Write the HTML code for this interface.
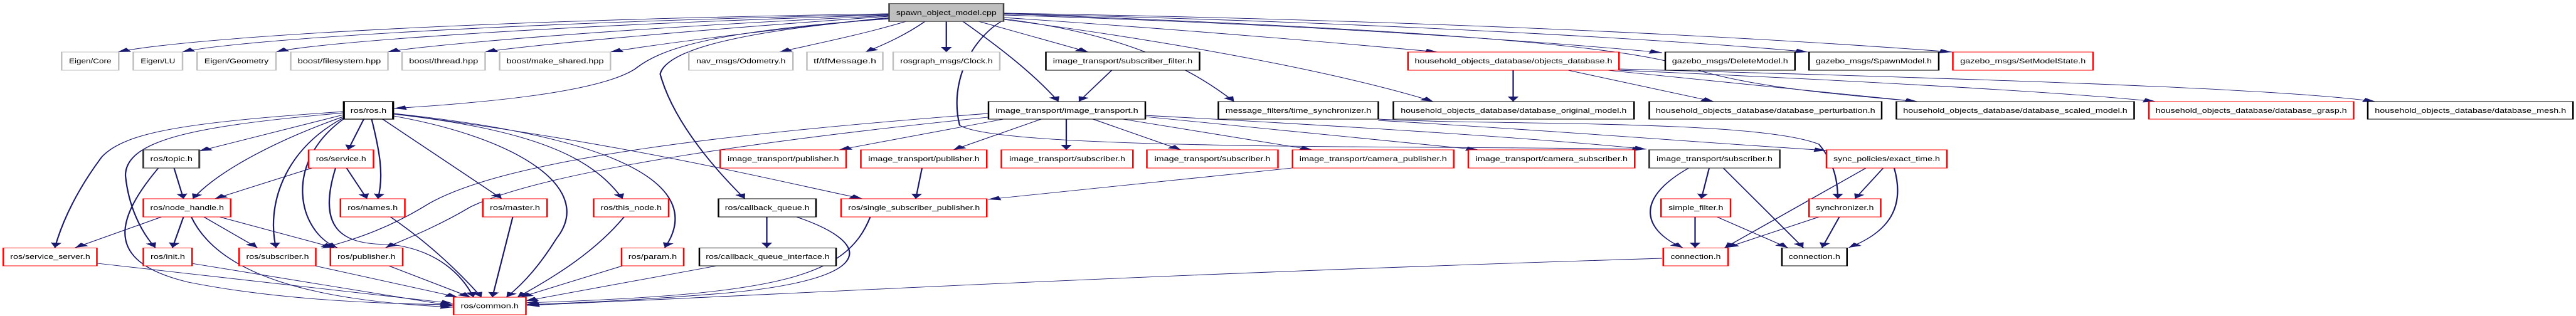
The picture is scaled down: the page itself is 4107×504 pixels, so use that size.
<!DOCTYPE html>
<html><head><meta charset="utf-8"><style>html,body{margin:0;padding:0;background:#fff}svg{display:block}</style></head>
<body>
<svg width="4107" height="504" viewBox="0 0 1642.8 504" preserveAspectRatio="none" xmlns="http://www.w3.org/2000/svg">
<defs><marker id="a" markerUnits="userSpaceOnUse" markerWidth="10" markerHeight="8" refX="8" refY="3.5" orient="auto"><path d="M0,0 L8,3.5 L0,7 z" fill="#191970"/></marker></defs>
<g fill="none" stroke="#191970" stroke-width="0.9" marker-end="url(#a)">
<path d="M567,22 C300,32 120,60 75,83"/>
<path d="M567,23 C320,36 150,64 116,83"/>
<path d="M567,24 C350,40 200,68 176,83"/>
<path d="M567,25 C400,44 270,72 247,83"/>
<path d="M567,26 C440,48 330,74 309,83"/>
<path d="M567,28 C480,50 410,74 389,83"/>
<path d="M578,34 C550,55 520,70 497,83"/>
<path d="M590,34 C578,55 565,70 552,83"/>
<path d="M603.5,34 L603.5,83"/>
<path d="M624,34 L694,83"/>
<path d="M614,34 C640,80 660,120 675,162"/>
<path d="M567,30 C450,50 420,80 405,110 C380,150 300,165 251,173"/>
<path d="M567,29 C470,50 425,80 421,118 C430,200 460,280 475,317"/>
<path d="M640,28 C760,48 860,70 917,83"/>
<path d="M640,24 C850,40 1000,70 1060,84"/>
<path d="M640,22 C900,36 1100,70 1153,83"/>
<path d="M640,21 C950,34 1150,65 1245,83"/>
<path d="M640,30 C720,55 760,110 787,162"/>
<path d="M640,31 C760,70 860,120 914,162"/>
<path d="M640,32 C620,60 605,130 612,200 C640,240 900,232 1049,238"/>
<path d="M640,22 C950,50 1050,80 1080,110 C1120,140 1170,150 1223,162"/>
<path d="M1032,112 C1200,130 1330,150 1375,162"/>
<path d="M1032,110 C1250,125 1450,140 1515,162"/>
<path d="M965,112 L965,162"/>
<path d="M1000,112 L1093,162"/>
<path d="M1025,112 L1223,162"/>
<path d="M879,190 C950,200 1120,190 1160,230 C1170,260 1172,290 1172,317"/>
<path d="M879,192 C1000,210 1100,230 1165,240"/>
<path d="M709,112 L688,162"/>
<path d="M640,190 L535,239"/>
<path d="M664,190 L608,239"/>
<path d="M680,190 L680,239"/>
<path d="M697,190 L753,239"/>
<path d="M716,190 L837,239"/>
<path d="M730,186 L943,239"/>
<path d="M730,184 C850,200 980,220 1050,238"/>
<path d="M630,181 C480,210 320,250 270,330 C250,360 230,380 205,396"/>
<path d="M630,187 C500,220 350,270 300,330 C280,360 260,380 246,395"/>
<path d="M588,268 L584,317"/>
<path d="M824,268 L630,318"/>
<path d="M219,178 C120,195 80,210 65,250 C50,300 40,350 35,395"/>
<path d="M219,180 C130,200 80,220 80,280 C82,330 90,370 99,395"/>
<path d="M219,183 L127,241"/>
<path d="M219,186 C180,220 140,270 123,317"/>
<path d="M219,188 C180,240 170,330 176,395"/>
<path d="M219,190 C180,260 190,370 215,395"/>
<path d="M232,190 L222,239"/>
<path d="M237,190 C242,240 245,280 241,317"/>
<path d="M244,190 L320,317"/>
<path d="M251,185 C330,220 380,300 355,380 C345,420 335,450 323,474"/>
<path d="M251,182 C350,210 380,260 397,317"/>
<path d="M251,181 C400,220 450,300 424,395"/>
<path d="M251,181 C400,230 480,280 550,317"/>
<path d="M111,268 L117,317"/>
<path d="M101,268 C70,360 70,420 120,450 C180,480 250,485 289,486"/>
<path d="M199,268 L137,317"/>
<path d="M221,268 L234,317"/>
<path d="M214,268 C200,380 225,390 250,390 C280,400 295,440 302,474"/>
<path d="M103,346 L48,395"/>
<path d="M117,346 L110,395"/>
<path d="M130,346 L164,395"/>
<path d="M140,346 L213,395"/>
<path d="M122,346 C140,440 200,480 289,490"/>
<path d="M249,346 C275,390 295,440 307,474"/>
<path d="M327,346 L314,474"/>
<path d="M398,346 C380,400 355,440 330,474"/>
<path d="M489,346 L489,395"/>
<path d="M508,346 C560,390 560,450 450,470 C400,480 360,484 335,486"/>
<path d="M555,346 C540,440 500,470 335,483"/>
<path d="M62,420 L289,484"/>
<path d="M122,420 L289,488"/>
<path d="M201,424 L292,474"/>
<path d="M248,424 L300,474"/>
<path d="M397,424 L332,474"/>
<path d="M457,424 L335,480"/>
<path d="M1060,412 C700,440 500,470 336,487"/>
<path d="M1090,268 L1085,317"/>
<path d="M1077,268 C1040,320 1050,370 1073,395"/>
<path d="M1099,268 L1150,395"/>
<path d="M1081,346 L1081,395"/>
<path d="M1095,346 L1140,395"/>
<path d="M1201,268 L1183,317"/>
<path d="M1190,268 L1100,395"/>
<path d="M1208,268 C1215,330 1205,370 1179,395"/>
<path d="M1160,346 L1101,395"/>
<path d="M1173,346 L1162,395"/>
</g>
<g stroke-width="1" font-family="Liberation Sans, sans-serif" font-size="11" text-anchor="middle">
<g fill="#fff" stroke="#bfbfbf">
<rect x="39.3" y="83" width="36.4" height="29"/><rect x="85" y="83" width="31.4" height="29"/><rect x="125.7" y="83" width="50.3" height="29"/><rect x="185.4" y="83" width="62" height="29"/><rect x="256.4" y="83" width="53" height="29"/><rect x="318.6" y="83" width="70.7" height="29"/><rect x="439.3" y="83" width="66.4" height="29"/><rect x="514.6" y="83" width="48.4" height="29"/><rect x="569.6" y="83" width="68" height="29"/>
</g>
<rect x="567" y="5.7" width="73" height="28.6" fill="#bfbfbf" stroke="#404040"/>
<g fill="#fff" stroke="#000">
<rect x="667" y="83" width="98" height="29"/><rect x="1062" y="83" width="82.7" height="29"/><rect x="1153.7" y="83" width="82.7" height="29"/>
<rect x="219.3" y="162" width="31.4" height="28" stroke-width="1.3"/><rect x="630.4" y="162" width="100" height="28"/><rect x="777" y="162" width="102" height="28"/><rect x="888.6" y="162" width="153.5" height="28"/><rect x="1051.8" y="162" width="148.2" height="28"/><rect x="1209.4" y="162" width="151.6" height="28"/><rect x="1510" y="162" width="130.9" height="28"/>
<rect x="458.2" y="317" width="62.2" height="29"/><rect x="446" y="395.5" width="87.2" height="28.5"/><rect x="1136.4" y="395.5" width="41.5" height="28.5"/>
</g>
<g fill="#fff" stroke="#404040">
<rect x="91.4" y="239" width="35.7" height="29" stroke-width="1.2"/><rect x="1051.8" y="239" width="83.2" height="29" stroke-width="1.2"/>
</g>
<g fill="#fff" stroke="#ff0000">
<rect x="897.9" y="83" width="134.6" height="29"/><rect x="1245.4" y="83" width="89.4" height="29"/><rect x="1370.4" y="162" width="130.6" height="28"/>
<rect x="196.8" y="239" width="41.4" height="29"/><rect x="459.3" y="239" width="80.3" height="29"/><rect x="549" y="239" width="80.3" height="29"/><rect x="638.6" y="239" width="83.9" height="29"/><rect x="731.4" y="239" width="83.6" height="29"/><rect x="824.3" y="239" width="102.8" height="29"/><rect x="936.4" y="239" width="106.1" height="29"/><rect x="1164.8" y="239" width="76.8" height="29"/>
<rect x="91.4" y="317" width="55.7" height="29"/><rect x="217.1" y="317" width="41.1" height="29"/><rect x="307.9" y="317" width="41" height="29"/><rect x="378.6" y="317" width="47.8" height="29"/><rect x="536.4" y="317" width="92.9" height="29"/><rect x="1059.3" y="317" width="44.3" height="29"/><rect x="1153.7" y="317" width="45.7" height="29"/>
<rect x="2.1" y="395.5" width="59.7" height="28.5"/><rect x="91.4" y="395.5" width="31.1" height="28.5"/><rect x="152.5" y="395.5" width="48.9" height="28.5"/><rect x="210.7" y="395.5" width="46.1" height="28.5"/><rect x="396.4" y="395.5" width="39.6" height="28.5"/><rect x="1060.7" y="395.5" width="41.4" height="28.5"/>
<rect x="289.3" y="474" width="46.1" height="28"/>
</g>
<g fill="#000" stroke="none" lengthAdjust="spacingAndGlyphs">
<text x="603.5" y="24" textLength="64" lengthAdjust="spacingAndGlyphs">spawn_object_model.cpp</text>
<text x="57.5" y="101" textLength="27" lengthAdjust="spacingAndGlyphs">Eigen/Core</text>
<text x="100.7" y="101" textLength="22" lengthAdjust="spacingAndGlyphs">Eigen/LU</text>
<text x="150.8" y="101" textLength="41" lengthAdjust="spacingAndGlyphs">Eigen/Geometry</text>
<text x="216.4" y="101" textLength="53" lengthAdjust="spacingAndGlyphs">boost/filesystem.hpp</text>
<text x="282.9" y="101" textLength="44" lengthAdjust="spacingAndGlyphs">boost/thread.hpp</text>
<text x="354" y="101" textLength="62" lengthAdjust="spacingAndGlyphs">boost/make_shared.hpp</text>
<text x="472.5" y="101" textLength="57" lengthAdjust="spacingAndGlyphs">nav_msgs/Odometry.h</text>
<text x="538.8" y="101" textLength="40" lengthAdjust="spacingAndGlyphs">tf/tfMessage.h</text>
<text x="603.6" y="101" textLength="59" lengthAdjust="spacingAndGlyphs">rosgraph_msgs/Clock.h</text>
<text x="716" y="101" textLength="89" lengthAdjust="spacingAndGlyphs">image_transport/subscriber_filter.h</text>
<text x="965.2" y="101" textLength="126" lengthAdjust="spacingAndGlyphs">household_objects_database/objects_database.h</text>
<text x="1103.3" y="101" textLength="74" lengthAdjust="spacingAndGlyphs">gazebo_msgs/DeleteModel.h</text>
<text x="1195" y="101" textLength="74" lengthAdjust="spacingAndGlyphs">gazebo_msgs/SpawnModel.h</text>
<text x="1290.1" y="101" textLength="80" lengthAdjust="spacingAndGlyphs">gazebo_msgs/SetModelState.h</text>
<text x="235" y="180" textLength="23" lengthAdjust="spacingAndGlyphs">ros/ros.h</text>
<text x="680.4" y="180" textLength="91" lengthAdjust="spacingAndGlyphs">image_transport/image_transport.h</text>
<text x="828" y="180" textLength="93" lengthAdjust="spacingAndGlyphs">message_filters/time_synchronizer.h</text>
<text x="965.3" y="180" textLength="144" lengthAdjust="spacingAndGlyphs">household_objects_database/database_original_model.h</text>
<text x="1125.9" y="180" textLength="140" lengthAdjust="spacingAndGlyphs">household_objects_database/database_perturbation.h</text>
<text x="1285.2" y="180" textLength="143" lengthAdjust="spacingAndGlyphs">household_objects_database/database_scaled_model.h</text>
<text x="1435.7" y="180" textLength="122" lengthAdjust="spacingAndGlyphs">household_objects_database/database_grasp.h</text>
<text x="1575.5" y="180" textLength="122" lengthAdjust="spacingAndGlyphs">household_objects_database/database_mesh.h</text>
<text x="109.3" y="257" textLength="27" lengthAdjust="spacingAndGlyphs">ros/topic.h</text>
<text x="217.5" y="257" textLength="32" lengthAdjust="spacingAndGlyphs">ros/service.h</text>
<text x="499.5" y="257" textLength="71" lengthAdjust="spacingAndGlyphs">image_transport/publisher.h</text>
<text x="589.2" y="257" textLength="71" lengthAdjust="spacingAndGlyphs">image_transport/publisher.h</text>
<text x="680.6" y="257" textLength="74" lengthAdjust="spacingAndGlyphs">image_transport/subscriber.h</text>
<text x="773.2" y="257" textLength="74" lengthAdjust="spacingAndGlyphs">image_transport/subscriber.h</text>
<text x="875.7" y="257" textLength="94" lengthAdjust="spacingAndGlyphs">image_transport/camera_publisher.h</text>
<text x="989.5" y="257" textLength="97" lengthAdjust="spacingAndGlyphs">image_transport/camera_subscriber.h</text>
<text x="1093.4" y="257" textLength="74" lengthAdjust="spacingAndGlyphs">image_transport/subscriber.h</text>
<text x="1203.2" y="257" textLength="68" lengthAdjust="spacingAndGlyphs">sync_policies/exact_time.h</text>
<text x="119.3" y="335" textLength="47" lengthAdjust="spacingAndGlyphs">ros/node_handle.h</text>
<text x="237.7" y="335" textLength="32" lengthAdjust="spacingAndGlyphs">ros/names.h</text>
<text x="328.4" y="335" textLength="32" lengthAdjust="spacingAndGlyphs">ros/master.h</text>
<text x="402.5" y="335" textLength="39" lengthAdjust="spacingAndGlyphs">ros/this_node.h</text>
<text x="489.3" y="335" textLength="54" lengthAdjust="spacingAndGlyphs">ros/callback_queue.h</text>
<text x="582.9" y="335" textLength="84" lengthAdjust="spacingAndGlyphs">ros/single_subscriber_publisher.h</text>
<text x="1081.5" y="335" textLength="35" lengthAdjust="spacingAndGlyphs">simple_filter.h</text>
<text x="1176.5" y="335" textLength="37" lengthAdjust="spacingAndGlyphs">synchronizer.h</text>
<text x="32" y="413" textLength="51" lengthAdjust="spacingAndGlyphs">ros/service_server.h</text>
<text x="107" y="413" textLength="22" lengthAdjust="spacingAndGlyphs">ros/init.h</text>
<text x="177" y="413" textLength="40" lengthAdjust="spacingAndGlyphs">ros/subscriber.h</text>
<text x="233.7" y="413" textLength="37" lengthAdjust="spacingAndGlyphs">ros/publisher.h</text>
<text x="416.2" y="413" textLength="31" lengthAdjust="spacingAndGlyphs">ros/param.h</text>
<text x="489.6" y="413" textLength="79" lengthAdjust="spacingAndGlyphs">ros/callback_queue_interface.h</text>
<text x="1081.4" y="413" textLength="32" lengthAdjust="spacingAndGlyphs">connection.h</text>
<text x="1157.1" y="413" textLength="33" lengthAdjust="spacingAndGlyphs">connection.h</text>
<text x="312.3" y="491.5" textLength="37" lengthAdjust="spacingAndGlyphs">ros/common.h</text>
</g>
</g>
</svg>
</body></html>
